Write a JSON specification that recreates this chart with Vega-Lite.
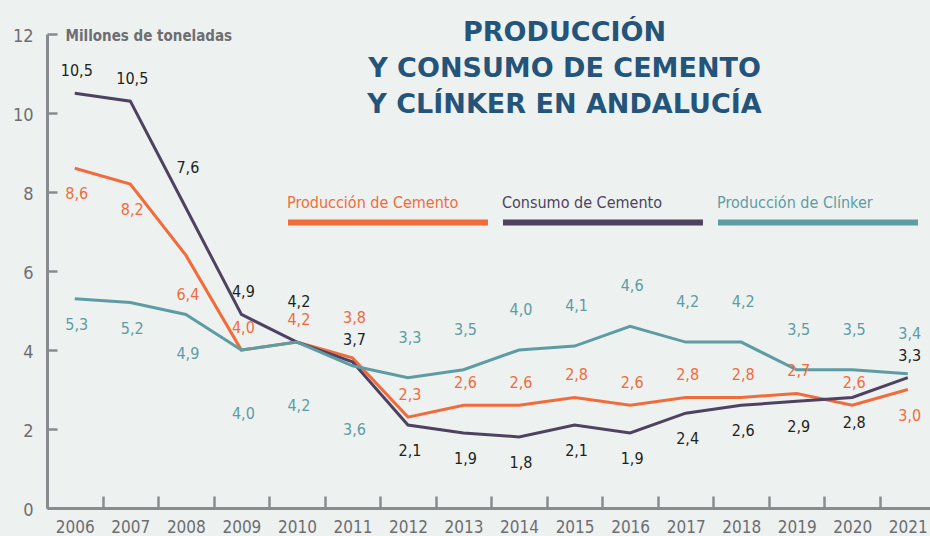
{
  "$schema": "https://vega.github.io/schema/vega-lite/v6.json",
  "width": 883,
  "height": 474,
  "autosize": {"type": "none"},
  "padding": {"left": 47, "top": 34, "right": 0, "bottom": 28},
  "background": "#edf1f0",
  "config": {"view": {"stroke": null}, "font": "DejaVu Sans Condensed, Roboto, sans-serif"},
  "title": {
    "text": ["PRODUCCIÓN", "Y CONSUMO DE CEMENTO", "Y CLÍNKER EN ANDALUCÍA"],
    "font": "DejaVu Sans",
    "fontWeight": "bold",
    "fontSize": 27,
    "color": "#24547a",
    "lineHeight": 36,
    "anchor": "middle",
    "frame": "group",
    "dx": 76,
    "baseline": "top",
    "offset": -92
  },
  "data": {
    "values": [
      {"year": 2006, "serie": "Producción de Cemento", "value": 8.6, "label": "8,6", "pos": "b"},
      {"year": 2007, "serie": "Producción de Cemento", "value": 8.2, "label": "8,2", "pos": "b"},
      {"year": 2008, "serie": "Producción de Cemento", "value": 6.4, "label": "6,4", "pos": "bb"},
      {"year": 2009, "serie": "Producción de Cemento", "value": 4.0, "label": "4,0", "pos": "a"},
      {"year": 2010, "serie": "Producción de Cemento", "value": 4.2, "label": "4,2", "pos": "a"},
      {"year": 2011, "serie": "Producción de Cemento", "value": 3.8, "label": "3,8", "pos": "aa"},
      {"year": 2012, "serie": "Producción de Cemento", "value": 2.3, "label": "2,3", "pos": "a"},
      {"year": 2013, "serie": "Producción de Cemento", "value": 2.6, "label": "2,6", "pos": "a"},
      {"year": 2014, "serie": "Producción de Cemento", "value": 2.6, "label": "2,6", "pos": "a"},
      {"year": 2015, "serie": "Producción de Cemento", "value": 2.8, "label": "2,8", "pos": "a"},
      {"year": 2016, "serie": "Producción de Cemento", "value": 2.6, "label": "2,6", "pos": "a"},
      {"year": 2017, "serie": "Producción de Cemento", "value": 2.8, "label": "2,8", "pos": "a"},
      {"year": 2018, "serie": "Producción de Cemento", "value": 2.8, "label": "2,8", "pos": "a"},
      {"year": 2019, "serie": "Producción de Cemento", "value": 2.9, "label": "2,7", "pos": "a"},
      {"year": 2020, "serie": "Producción de Cemento", "value": 2.6, "label": "2,6", "pos": "a"},
      {"year": 2021, "serie": "Producción de Cemento", "value": 3.0, "label": "3,0", "pos": "b"},
      {"year": 2006, "serie": "Consumo de Cemento", "value": 10.5, "label": "10,5", "pos": "a"},
      {"year": 2007, "serie": "Consumo de Cemento", "value": 10.3, "label": "10,5", "pos": "a"},
      {"year": 2008, "serie": "Consumo de Cemento", "value": 7.6, "label": "7,6", "pos": "aa"},
      {"year": 2009, "serie": "Consumo de Cemento", "value": 4.9, "label": "4,9", "pos": "a"},
      {"year": 2010, "serie": "Consumo de Cemento", "value": 4.2, "label": "4,2", "pos": "aa"},
      {"year": 2011, "serie": "Consumo de Cemento", "value": 3.7, "label": "3,7", "pos": "a"},
      {"year": 2012, "serie": "Consumo de Cemento", "value": 2.1, "label": "2,1", "pos": "b"},
      {"year": 2013, "serie": "Consumo de Cemento", "value": 1.9, "label": "1,9", "pos": "b"},
      {"year": 2014, "serie": "Consumo de Cemento", "value": 1.8, "label": "1,8", "pos": "b"},
      {"year": 2015, "serie": "Consumo de Cemento", "value": 2.1, "label": "2,1", "pos": "b"},
      {"year": 2016, "serie": "Consumo de Cemento", "value": 1.9, "label": "1,9", "pos": "b"},
      {"year": 2017, "serie": "Consumo de Cemento", "value": 2.4, "label": "2,4", "pos": "b"},
      {"year": 2018, "serie": "Consumo de Cemento", "value": 2.6, "label": "2,6", "pos": "b"},
      {"year": 2019, "serie": "Consumo de Cemento", "value": 2.7, "label": "2,9", "pos": "b"},
      {"year": 2020, "serie": "Consumo de Cemento", "value": 2.8, "label": "2,8", "pos": "b"},
      {"year": 2021, "serie": "Consumo de Cemento", "value": 3.3, "label": "3,3", "pos": "a"},
      {"year": 2006, "serie": "Producción de Clínker", "value": 5.3, "label": "5,3", "pos": "b"},
      {"year": 2007, "serie": "Producción de Clínker", "value": 5.2, "label": "5,2", "pos": "b"},
      {"year": 2008, "serie": "Producción de Clínker", "value": 4.9, "label": "4,9", "pos": "bb"},
      {"year": 2009, "serie": "Producción de Clínker", "value": 4.0, "label": "4,0", "pos": "bbb"},
      {"year": 2010, "serie": "Producción de Clínker", "value": 4.2, "label": "4,2", "pos": "bbb"},
      {"year": 2011, "serie": "Producción de Clínker", "value": 3.6, "label": "3,6", "pos": "bbb"},
      {"year": 2012, "serie": "Producción de Clínker", "value": 3.3, "label": "3,3", "pos": "aa"},
      {"year": 2013, "serie": "Producción de Clínker", "value": 3.5, "label": "3,5", "pos": "aa"},
      {"year": 2014, "serie": "Producción de Clínker", "value": 4.0, "label": "4,0", "pos": "aa"},
      {"year": 2015, "serie": "Producción de Clínker", "value": 4.1, "label": "4,1", "pos": "aa"},
      {"year": 2016, "serie": "Producción de Clínker", "value": 4.6, "label": "4,6", "pos": "aa"},
      {"year": 2017, "serie": "Producción de Clínker", "value": 4.2, "label": "4,2", "pos": "aa"},
      {"year": 2018, "serie": "Producción de Clínker", "value": 4.2, "label": "4,2", "pos": "aa"},
      {"year": 2019, "serie": "Producción de Clínker", "value": 3.5, "label": "3,5", "pos": "aa"},
      {"year": 2020, "serie": "Producción de Clínker", "value": 3.5, "label": "3,5", "pos": "aa"},
      {"year": 2021, "serie": "Producción de Clínker", "value": 3.4, "label": "3,4", "pos": "aa"}
    ]
  },
  "encoding": {
    "x": {
      "field": "year",
      "type": "quantitative",
      "scale": {"domain": [2005.5, 2021.4], "nice": false, "zero": false},
      "axis": {
        "title": null,
        "grid": false,
        "values": [2005.5, 2006.5, 2007.5, 2008.5, 2009.5, 2010.5, 2011.5, 2012.5, 2013.5, 2014.5, 2015.5, 2016.5, 2017.5, 2018.5, 2019.5, 2020.5],
        "labelExpr": "format(datum.value + 0.5, 'd')",
        "labelOffset": 27.77,
        "labelFlush": false,
        "labelOverlap": false,
        "tickSize": -12,
        "tickWidth": 2.5,
        "tickColor": "#8a8b8e",
        "domainColor": "#8a8b8e",
        "domainWidth": 3,
        "labelPadding": 23,
        "labelFontSize": 17,
        "labelColor": "#6d6e71"
      }
    },
    "y": {
      "field": "value",
      "type": "quantitative",
      "scale": {"domain": [0, 12], "nice": false},
      "axis": {
        "values": [0, 2, 4, 6, 8, 10, 12],
        "grid": false,
        "tickSize": -10,
        "tickWidth": 2.5,
        "tickColor": "#8a8b8e",
        "domainColor": "#8a8b8e",
        "domainWidth": 3,
        "labelPadding": 24,
        "labelOffset": 2,
        "labelFontSize": 18,
        "labelColor": "#6d6e71",
        "title": "Millones de toneladas",
        "titleAngle": 0,
        "titleX": 18,
        "titleY": 6,
        "titleAlign": "left",
        "titleBaseline": "alphabetic",
        "titleFontWeight": "bold",
        "titleFontSize": 15,
        "titleColor": "#6d6e71"
      }
    }
  },
  "layer": [
    {
      "mark": {"type": "line", "strokeWidth": 3},
      "encoding": {
        "color": {
          "field": "serie",
          "type": "nominal",
          "scale": {
            "domain": ["Producción de Cemento", "Consumo de Cemento", "Producción de Clínker"],
            "range": ["#f26b3b", "#4e4260", "#5e9ca3"]
          },
          "legend": {
            "orient": "none",
            "legendX": 238,
            "legendY": 79,
            "direction": "horizontal",
            "title": null,
            "padding": 0,
            "symbolType": "M-1,0.116H1.105",
            "symbolSize": 36100,
            "symbolStrokeWidth": 6,
            "labelOffset": -194,
            "labelBaseline": "bottom",
            "labelLimit": 0,
            "columnPadding": -20,
            "labelFontSize": 16,
            "labelColor": {"expr": "scale('color', datum.value)"}
          }
        }
      }
    },
    {
      "transform": [{"filter": "datum.pos == 'a'"}],
      "mark": {"type": "text", "baseline": "middle", "align": "center", "dx": 2, "dy": -22, "fontSize": 16},
      "encoding": {"text": {"field": "label"}, "fill": {"field": "serie", "type": "nominal", "scale": {"domain": ["Producción de Cemento", "Consumo de Cemento", "Producción de Clínker"], "range": ["#f26b3b", "#231f20", "#5e9ca3"]}, "legend": null}}
    },
    {
      "transform": [{"filter": "datum.pos == 'aa'"}],
      "mark": {"type": "text", "baseline": "middle", "align": "center", "dx": 2, "dy": -40, "fontSize": 16},
      "encoding": {"text": {"field": "label"}, "fill": {"field": "serie", "type": "nominal", "scale": {"domain": ["Producción de Cemento", "Consumo de Cemento", "Producción de Clínker"], "range": ["#f26b3b", "#231f20", "#5e9ca3"]}, "legend": null}}
    },
    {
      "transform": [{"filter": "datum.pos == 'b'"}],
      "mark": {"type": "text", "baseline": "middle", "align": "center", "dx": 2, "dy": 26, "fontSize": 16},
      "encoding": {"text": {"field": "label"}, "fill": {"field": "serie", "type": "nominal", "scale": {"domain": ["Producción de Cemento", "Consumo de Cemento", "Producción de Clínker"], "range": ["#f26b3b", "#231f20", "#5e9ca3"]}, "legend": null}}
    },
    {
      "transform": [{"filter": "datum.pos == 'bb'"}],
      "mark": {"type": "text", "baseline": "middle", "align": "center", "dx": 2, "dy": 40, "fontSize": 16},
      "encoding": {"text": {"field": "label"}, "fill": {"field": "serie", "type": "nominal", "scale": {"domain": ["Producción de Cemento", "Consumo de Cemento", "Producción de Clínker"], "range": ["#f26b3b", "#231f20", "#5e9ca3"]}, "legend": null}}
    },
    {
      "transform": [{"filter": "datum.pos == 'bbb'"}],
      "mark": {"type": "text", "baseline": "middle", "align": "center", "dx": 2, "dy": 64, "fontSize": 16},
      "encoding": {"text": {"field": "label"}, "fill": {"field": "serie", "type": "nominal", "scale": {"domain": ["Producción de Cemento", "Consumo de Cemento", "Producción de Clínker"], "range": ["#f26b3b", "#231f20", "#5e9ca3"]}, "legend": null}}
    },
    {
      "data": {"values": [{"source": "Fuente: OFICEMEN"}]},
      "mark": {"type": "text", "align": "left", "baseline": "alphabetic", "fontSize": 16, "fontWeight": "bold", "color": "#6d6e71"},
      "encoding": {
        "x": {"datum": 2019.53},
        "y": {"datum": 0.66},
        "text": {"field": "source"}
      }
    }
  ]
}
